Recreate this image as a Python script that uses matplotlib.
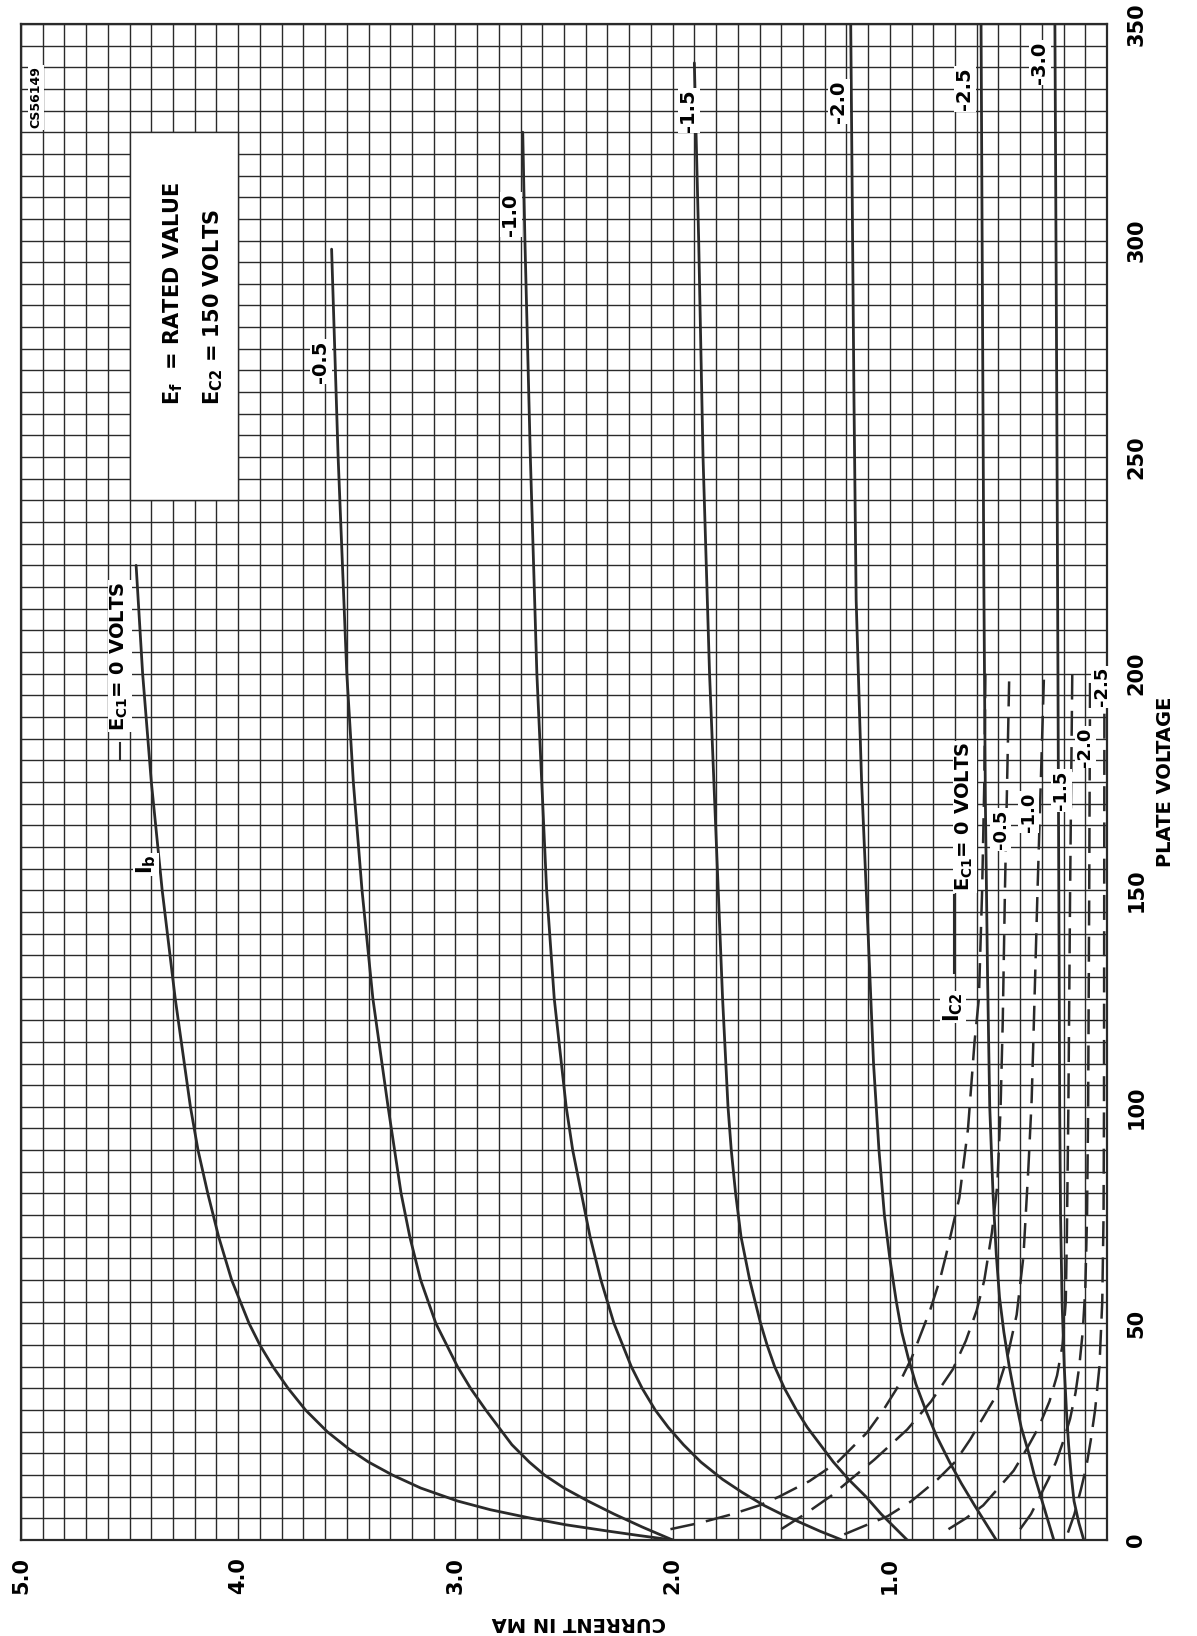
import matplotlib
matplotlib.use('Agg')
import matplotlib.pyplot as plt
from matplotlib.patches import Rectangle
from matplotlib.ticker import MultipleLocator

plt.rcParams['font.family'] = ['DejaVu Sans']
plt.rcParams['font.weight'] = 'bold'
plt.rcParams['mathtext.fontset'] = 'custom'
plt.rcParams['mathtext.rm'] = 'DejaVu Sans:bold'
plt.rcParams['mathtext.default'] = 'rm'

# Plate current Ib (solid): plate voltage (V) -> current (mA), one list per grid voltage Ec1
ib_grid = ['0', '-0.5', '-1.0', '-1.5', '-2.0', '-2.5', '-3.0']
ib_volts = [
    [0, 1, 2, 3.5, 5, 7, 9, 12, 15, 18, 21, 25, 30, 35, 40, 45, 50, 60, 70, 80, 90, 100,
     125, 150, 175, 200, 225],
    [0, 3, 6, 9, 12, 15, 18, 22, 26, 30, 35, 40, 45, 50, 60, 70, 80, 90, 100, 125, 150,
     175, 200, 250, 298],
    [0, 2, 4, 6, 8, 11, 14, 18, 22, 26, 30, 35, 40, 45, 50, 60, 70, 80, 90, 100, 125, 150,
     200, 250, 300, 325],
    [0, 3, 6, 10, 14, 18, 22, 26, 30, 35, 40, 45, 50, 60, 70, 80, 90, 100, 125, 150, 200,
     250, 300, 341],
    [0, 4, 8, 13, 18, 24, 30, 36, 42, 48, 55, 65, 75, 90, 110, 140, 175, 217, 263, 350],
    [0, 5, 10, 15, 20, 26, 32, 40, 48, 56, 66, 80, 100, 130, 170, 220, 280, 350],
    [0, 4, 9, 15, 22, 30, 40, 55, 75, 100, 150, 200, 270, 350],
]
ib_ma = [
    [2.00, 2.15, 2.29, 2.49, 2.65, 2.84, 2.99, 3.16, 3.29, 3.40, 3.49, 3.59, 3.69, 3.77,
     3.84, 3.90, 3.95, 4.03, 4.09, 4.14, 4.185, 4.22, 4.29, 4.35, 4.40, 4.44, 4.47],
    [2.00, 2.14, 2.27, 2.39, 2.50, 2.59, 2.66, 2.74, 2.80, 2.86, 2.93, 2.99, 3.04, 3.09,
     3.16, 3.21, 3.25, 3.28, 3.31, 3.38, 3.43, 3.47, 3.50, 3.54, 3.57],
    [1.22, 1.32, 1.41, 1.50, 1.58, 1.68, 1.77, 1.87, 1.95, 2.02, 2.08, 2.14, 2.19, 2.23,
     2.27, 2.33, 2.38, 2.42, 2.46, 2.49, 2.545, 2.58, 2.625, 2.655, 2.68, 2.69],
    [0.92, 0.98, 1.04, 1.11, 1.19, 1.26, 1.32, 1.38, 1.43, 1.485, 1.53, 1.565, 1.595,
     1.645, 1.685, 1.71, 1.73, 1.745, 1.77, 1.79, 1.83, 1.86, 1.88, 1.90],
    [0.51, 0.56, 0.61, 0.67, 0.725, 0.785, 0.835, 0.88, 0.915, 0.945, 0.97, 1.0, 1.025,
     1.05, 1.075, 1.10, 1.13, 1.155, 1.165, 1.18],
    [0.245, 0.275, 0.305, 0.335, 0.36, 0.395, 0.42, 0.45, 0.475, 0.495, 0.51, 0.525,
     0.54, 0.55, 0.56, 0.567, 0.573, 0.58],
    [0.107, 0.13, 0.152, 0.165, 0.177, 0.187, 0.197, 0.207, 0.214, 0.218, 0.222, 0.226,
     0.232, 0.24],
]

# Screen current Ic2 (dashed)
ic2_grid = ['0', '-0.5', '-1.0', '-1.5', '-2.0', '-2.5']
ic2_volts = [
    [2.5, 4, 5.9, 8, 10, 13.6, 18, 24.8, 30, 34.8, 42, 53, 60, 66, 79, 95, 105, 115, 125,
     150, 175, 200],
    [2.5, 6, 10.2, 14, 18.6, 25.5, 32, 39.4, 46, 53, 60, 71, 82, 100, 120, 150, 200],
    [1.3, 5.5, 9, 14, 18, 23.2, 32.5, 42, 52, 65.4, 86, 101.6, 121, 150, 200],
    [2.5, 5, 8, 12, 16, 21, 26, 32, 38, 45, 55, 70, 100, 150, 200],
    [2.5, 6, 10, 14, 18, 23, 28, 34, 40, 48, 58, 75, 100, 150, 200],
    [1.7, 6, 11.7, 17, 23, 30, 40, 55, 75, 100, 200],
]
ic2_ma = [
    [2.01, 1.87, 1.73, 1.60, 1.51, 1.37, 1.24, 1.105, 1.03, 0.97, 0.90, 0.815, 0.77, 0.74,
     0.68, 0.64, 0.625, 0.61, 0.59, 0.575, 0.565, 0.56],
    [1.50, 1.39, 1.27, 1.18, 1.07, 0.92, 0.81, 0.71, 0.65, 0.60, 0.565, 0.53, 0.505, 0.49,
     0.48, 0.47, 0.45],
    [1.21, 1.01, 0.90, 0.78, 0.70, 0.63, 0.52, 0.46, 0.416, 0.385, 0.362, 0.347, 0.336,
     0.32, 0.29],
    [0.73, 0.65, 0.57, 0.50, 0.43, 0.37, 0.315, 0.265, 0.23, 0.205, 0.19, 0.185, 0.178,
     0.17, 0.16],
    [0.40, 0.35, 0.31, 0.27, 0.235, 0.20, 0.17, 0.145, 0.128, 0.112, 0.10, 0.092, 0.087,
     0.082, 0.078],
    [0.18, 0.15, 0.12, 0.095, 0.075, 0.055, 0.035, 0.022, 0.016, 0.014, 0.012],
]

volt_ticks = [0, 50, 100, 150, 200, 250, 300, 350]
current_ticks = [1, 2, 3, 4, 5]
current_labels = ['1.0', '2.0', '3.0', '4.0', '5.0']

ink = '#2a2a2a'

fig = plt.figure(figsize=(11.97, 16.36), dpi=100)
ax = fig.add_axes([0.01754, 0.05868, 0.9073, 0.9267])
ax.set_xlim(5.0, 0)
ax.set_ylim(0, 350)

# graph paper
ax.xaxis.set_minor_locator(MultipleLocator(0.1))
ax.yaxis.set_minor_locator(MultipleLocator(5))
ax.grid(which='both', color=ink, lw=1.0, zorder=0)
ax.set_axisbelow(True)
for s in ax.spines.values():
    s.set_color(ink)
    s.set_linewidth(1.6)

ax.set_xticks(current_ticks)
ax.set_xticklabels(current_labels)
ax.yaxis.tick_right()
ax.set_yticks(volt_ticks)
ax.set_yticklabels([str(v) for v in volt_ticks])
ax.tick_params(which='both', length=0)
ax.tick_params(axis='x', labelsize=15, pad=12, labelrotation=90)
ax.tick_params(axis='y', labelsize=15, pad=14)
for lab in ax.get_yticklabels():
    lab.set_rotation(90)
    lab.set_va('center')

# white box for the conditions note
ax.add_patch(Rectangle((4.0, 240), 0.5, 85, facecolor='white', edgecolor=ink,
                       lw=1.0, zorder=1))
ax.text(4.30, 262, r'E$_{f}$  = RATED VALUE', rotation=90, ha='center', va='bottom',
        fontsize=15, zorder=3)
ax.text(4.115, 262, r'E$_{C2}$ = 150 VOLTS', rotation=90, ha='center', va='bottom',
        fontsize=15, zorder=3)
ax.text(4.93, 333, 'CS56149', rotation=90, ha='center', va='center', fontsize=9,
        zorder=3, bbox=dict(facecolor='white', edgecolor='none', pad=1))

# curves
for v, i in zip(ib_volts, ib_ma):
    ax.plot(i, v, color=ink, lw=2.0, solid_capstyle='round', solid_joinstyle='round',
            zorder=4)
for v, i in zip(ic2_volts, ic2_ma):
    ax.plot(i, v, color=ink, lw=1.8, linestyle=(0, (10, 4.5)), zorder=4)

lbl = dict(rotation=90, ha='center', va='center', zorder=5,
           bbox=dict(facecolor='white', edgecolor='none', pad=1))

# Ib labels
ax.text(4.425, 156, r'I$_{b}$', fontsize=15, **lbl)
ax.plot([4.545, 4.545], [180, 184], color=ink, lw=1.5, zorder=5)
ax.text(4.545, 204, r'E$_{C1}$= 0 VOLTS', fontsize=14, **lbl)
ib_label_pos = [(3.62, 272), (2.745, 306), (1.925, 330), (1.235, 332), (0.655, 335), (0.31, 341)]
for g, (x, y) in zip(ib_grid[1:], ib_label_pos):
    ax.text(x, y, g, fontsize=14, **lbl)

# Ic2 labels
ax.text(0.71, 123, r'I$_{C2}$', fontsize=15, **lbl)
ax.plot([0.705, 0.705], [131, 149], color=ink, lw=1.5, zorder=5)
ax.text(0.655, 167, r'E$_{C1}$= 0 VOLTS', fontsize=14, **lbl)
ic2_label_pos = [(0.49, 164), (0.36, 168), (0.21, 173), (0.10, 183), (0.025, 197)]
for g, (x, y) in zip(ic2_grid[1:], ic2_label_pos):
    ax.text(x, y, g, fontsize=13, **lbl)

# axis titles
ax.text(-0.27, 175, 'PLATE VOLTAGE', rotation=90, ha='center', va='center',
        fontsize=14, clip_on=False)
ax.text(2.43, -19, 'CURRENT IN MA', rotation=180, ha='center', va='center',
        fontsize=14, clip_on=False)

fig.savefig('out.png', dpi=100, facecolor='white')
